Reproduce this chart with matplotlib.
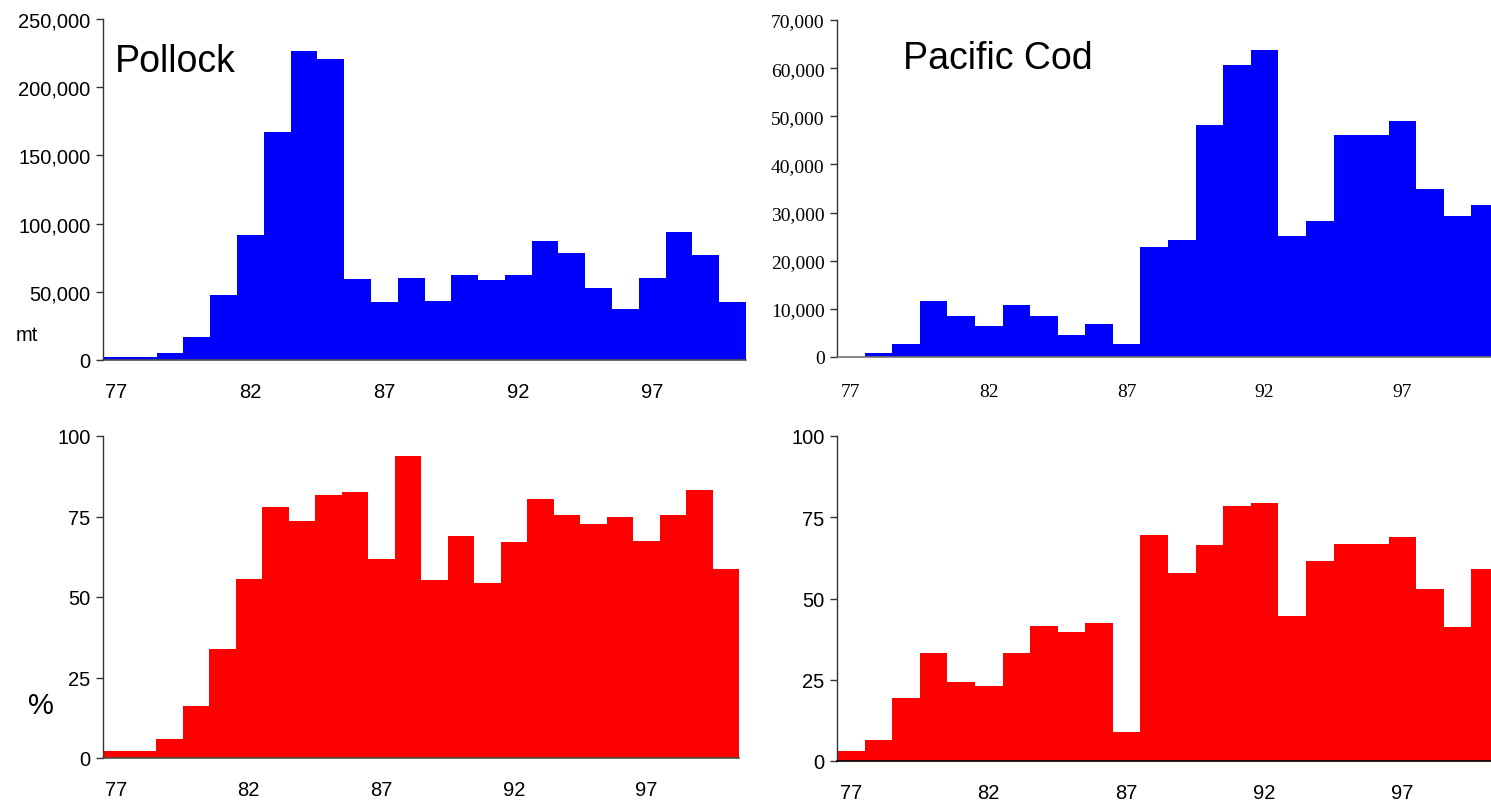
import matplotlib
matplotlib.use('Agg')
import matplotlib.pyplot as plt
from matplotlib.ticker import FuncFormatter

years = list(range(77, 101))
tick_years = [77, 82, 87, 92, 97]

# catch (mt)
pollock_catch = [2000, 2000, 5100, 16900, 47700, 91800, 167500, 226700, 220400, 59500,
                 42600, 60200, 43300, 62400, 58800, 62400, 87400, 78600, 52900, 37500,
                 60200, 94000, 77100, 42600]
cod_catch = [0, 830, 2700, 11600, 8500, 6400, 10800, 8500, 4600, 6850,
             2700, 22800, 24300, 48100, 60600, 63700, 25100, 28200, 46100, 46100,
             49000, 34900, 29300, 31600]

# percent
pollock_pct = [2.2, 2.2, 5.9, 16.0, 34.0, 55.6, 78.0, 73.7, 81.8, 82.7,
               61.9, 93.9, 55.3, 69.0, 54.4, 67.2, 80.5, 75.5, 72.7, 74.9,
               67.5, 75.5, 83.3, 58.8]
cod_pct = [3.0, 6.6, 19.5, 33.3, 24.4, 23.2, 33.3, 41.6, 39.8, 42.6,
           9.0, 69.6, 57.9, 66.6, 78.6, 79.5, 44.7, 61.6, 66.8, 66.8,
           69.0, 53.0, 41.2, 59.2]

# bin edges, one year wide, centred on each year
edges = [y - 0.5 for y in years] + [years[-1] + 0.5]

W, H = 1491, 804
fig = plt.figure(figsize=(W / 100, H / 100), dpi=100)


def box(left, top, right, bottom):
    return [left / W, 1 - bottom / H, (right - left) / W, (bottom - top) / H]


def style(ax, font, size, ymax, yticks, fmt=None, base_color='0.3', xpad=16):
    ax.set_xlim(76.5, 100.5)
    ax.set_ylim(0, ymax)
    for s in ['top', 'right']:
        ax.spines[s].set_visible(False)
    ax.spines['left'].set_color('0.2')
    ax.spines['left'].set_linewidth(1.0)
    ax.spines['bottom'].set_color(base_color)
    ax.spines['bottom'].set_linewidth(1.2)
    ax.spines['bottom'].set_zorder(3)
    ax.set_xticks(tick_years)
    ax.set_yticks(yticks)
    if fmt is not None:
        ax.yaxis.set_major_formatter(FuncFormatter(fmt))
    ax.tick_params(axis='x', length=0, pad=xpad)
    ax.tick_params(axis='y', length=5, width=1, color='0.2', pad=4)
    for lab in ax.get_xticklabels() + ax.get_yticklabels():
        lab.set_family(font)
        lab.set_fontsize(size)


comma = lambda v, p: f'{int(v):,}'

# top left - pollock catch
ax1 = fig.add_axes(box(103, 20, 746, 361))
ax1.stairs(pollock_catch, edges, fill=True, color='#0000ff', baseline=0)
style(ax1, 'Liberation Sans', 14.5, 250000, range(0, 250001, 50000), comma)
fig.text(115 / W, 1 - 72 / H, 'Pollock', family='Liberation Sans', fontsize=27, va='baseline')
fig.text(27 / W, 1 - 336 / H, 'mt', family='Liberation Sans', fontsize=14.5, ha='center', va='center')

# top right - cod catch
ax2 = fig.add_axes(box(837, 21, 1499, 358))
ax2.stairs(cod_catch, edges, fill=True, color='#0000ff', baseline=0)
style(ax2, 'Liberation Serif', 14, 70000, range(0, 70001, 10000), comma, base_color='0.45', xpad=19)
fig.text(903 / W, 1 - 69 / H, 'Pacific Cod', family='Liberation Sans', fontsize=27, va='baseline')

# bottom left - pollock %
ax3 = fig.add_axes(box(103, 437, 739, 759))
ax3.stairs(pollock_pct, edges, fill=True, color='#ff0000', baseline=0)
style(ax3, 'Liberation Sans', 14.5, 100, [0, 25, 50, 75, 100])
fig.text(41 / W, 1 - 706 / H, '%', family='Liberation Sans', fontsize=21, ha='center', va='center')

# bottom right - cod %
ax4 = fig.add_axes(box(837, 437, 1499, 762))
ax4.stairs(cod_pct, edges, fill=True, color='#ff0000', baseline=0)
style(ax4, 'Liberation Sans', 14.5, 100, [0, 25, 50, 75, 100], base_color='0.0')

plt.savefig('out.png', dpi=100)
